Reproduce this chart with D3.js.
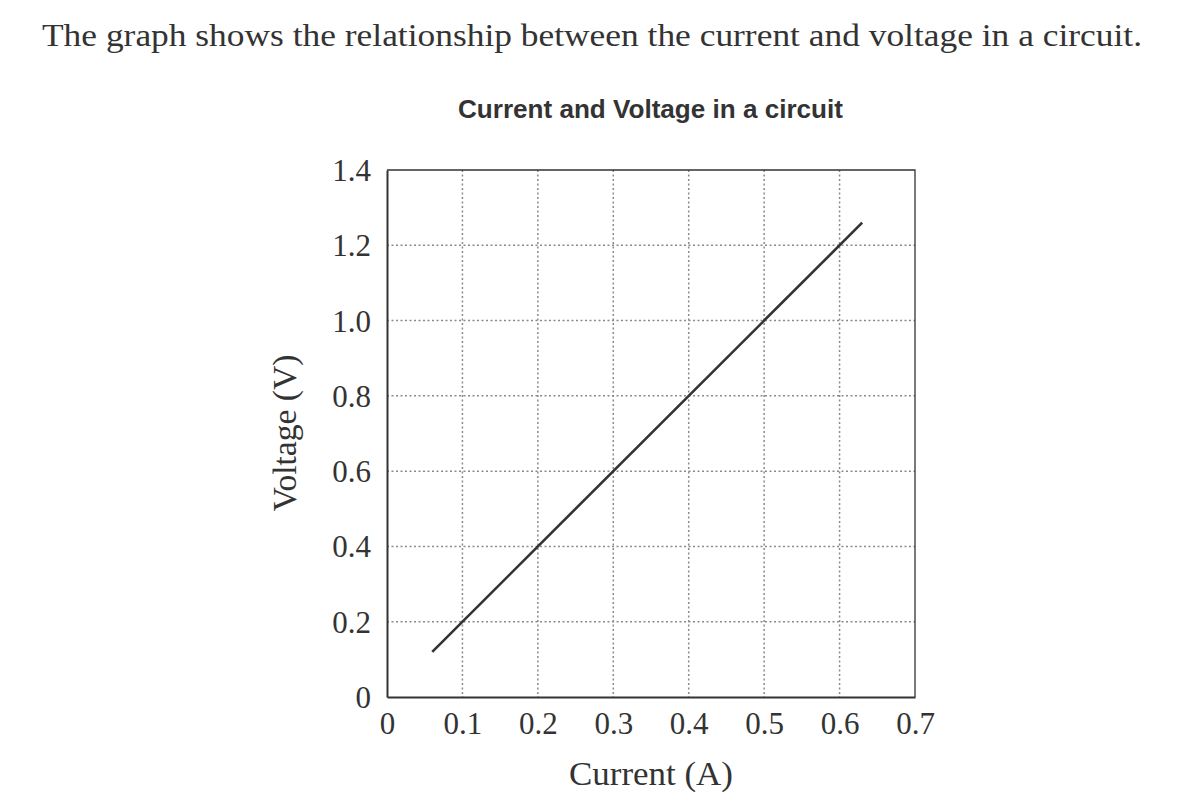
<!DOCTYPE html>
<html>
<head>
<meta charset="utf-8">
<script src="https://cdn.jsdelivr.net/npm/d3@7"></script>
<style>
  html, body { margin: 0; padding: 0; background: #fff; }
  svg { display: block; }
</style>
</head>
<body>
<svg id="chart" width="1196" height="809"></svg>
<script>
// ---- data ----
const headline = "The graph shows the relationship between the current and voltage in a circuit.";
const chartTitle = "Current and Voltage in a circuit";
const xLabel = "Current (A)";
const yLabel = "Voltage (V)";
const xTicks = [0, 0.1, 0.2, 0.3, 0.4, 0.5, 0.6, 0.7];
const xTickLabels = ["0", "0.1", "0.2", "0.3", "0.4", "0.5", "0.6", "0.7"];
const yTicks = [0, 0.2, 0.4, 0.6, 0.8, 1.0, 1.2, 1.4];
const yTickLabels = ["0", "0.2", "0.4", "0.6", "0.8", "1.0", "1.2", "1.4"];
const currentA = [0.06, 0.63];
const voltageV = [0.12, 1.26];

(function () {
// ---- layout ----
const svg = d3.select("#chart");
const pLeft = 387, pRight = 915, pTop = 170, pBottom = 697;
const serif = "'Liberation Serif', 'DejaVu Serif', serif";
const ink = "#333";

const x = d3.scaleLinear().domain([0, 0.7]).range([pLeft, pRight]);
const y = d3.scaleLinear().domain([0, 1.4]).range([pBottom, pTop]);

function fitText(sel, targetWidth) {
  const fs = parseFloat(sel.attr("font-size"));
  const w = sel.node().getComputedTextLength();
  if (w > 0) sel.attr("font-size", fs * targetWidth / w);
}
function stretchText(sel, targetWidth) {
  sel.attr("textLength", targetWidth).attr("lengthAdjust", "spacingAndGlyphs");
}

// headline
const hl = svg.append("text")
  .attr("x", 42).attr("y", 46)
  .attr("font-family", serif).attr("font-size", 32.5)
  .attr("fill", ink)
  .text(headline);
stretchText(hl, 1100);

// chart title
const ct = svg.append("text")
  .attr("x", 458).attr("y", 118)
  .attr("font-family", "'Liberation Sans', Arial, sans-serif")
  .attr("font-weight", "bold").attr("font-size", 23)
  .attr("fill", ink)
  .text(chartTitle);
fitText(ct, 385);

// grid
const grid = svg.append("g")
  .attr("stroke", "#8a8a8a").attr("stroke-width", 1.5)
  .attr("stroke-dasharray", "2,2.5");
grid.selectAll("line.vx")
  .data(xTicks.filter(d => d > 0 && d < 0.7))
  .join("line")
  .attr("class", "vx")
  .attr("x1", d => x(d)).attr("x2", d => x(d))
  .attr("y1", pTop).attr("y2", pBottom);
grid.selectAll("line.hy")
  .data(yTicks.filter(d => d > 0 && d < 1.4))
  .join("line")
  .attr("class", "hy")
  .attr("x1", pLeft).attr("x2", pRight)
  .attr("y1", d => y(d)).attr("y2", d => y(d));

// frame: top & right thin
svg.append("path")
  .attr("d", `M${pLeft},${pTop}H${pRight}V${pBottom}`)
  .attr("fill", "none").attr("stroke", ink).attr("stroke-width", 1.3);

// axes (left & bottom thicker)
const xAxis = d3.axisBottom(x).tickValues(xTicks)
  .tickFormat((d, i) => xTickLabels[i]).tickSize(0).tickPadding(0);
const gx = svg.append("g").attr("transform", `translate(0,${pBottom})`).call(xAxis);
gx.select(".domain").attr("stroke", ink).attr("stroke-width", 2);
gx.selectAll(".tick text")
  .attr("font-family", serif).attr("font-size", 31).attr("fill", ink)
  .attr("dy", null).attr("y", 37);

const yAxis = d3.axisLeft(y).tickValues(yTicks)
  .tickFormat((d, i) => yTickLabels[i]).tickSize(0).tickPadding(16);
const gy = svg.append("g").attr("transform", `translate(${pLeft},0)`).call(yAxis);
gy.select(".domain").attr("stroke", ink).attr("stroke-width", 2);
gy.selectAll(".tick text")
  .attr("font-family", serif).attr("font-size", 31).attr("fill", ink)
  .attr("dy", "0.34em");

// axis titles
const xl = svg.append("text")
  .attr("x", 651).attr("y", 785)
  .attr("text-anchor", "middle")
  .attr("font-family", serif).attr("font-size", 33).attr("fill", ink)
  .text(xLabel);
stretchText(xl, 164);
const yl = svg.append("text")
  .attr("transform", `translate(296,433) rotate(-90)`)
  .attr("text-anchor", "middle")
  .attr("font-family", serif).attr("font-size", 33).attr("fill", ink)
  .text(yLabel);
stretchText(yl, 157);

// data line
const line = d3.line().x(d => x(d[0])).y(d => y(d[1]));
svg.append("path")
  .datum(currentA.map((c, i) => [c, voltageV[i]]))
  .attr("d", line)
  .attr("fill", "none").attr("stroke", ink).attr("stroke-width", 2.6);
})();
</script>
</body>
</html>
